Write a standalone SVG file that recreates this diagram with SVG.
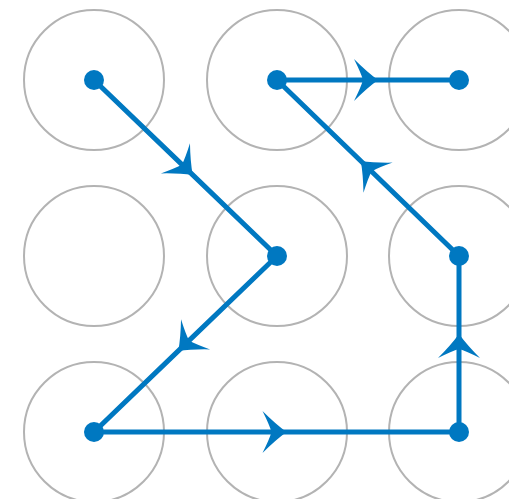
<svg xmlns="http://www.w3.org/2000/svg" width="509" height="499" viewBox="0 0 509 499">
<style>
.ring{fill:none;stroke:#b3b3b3;stroke-width:2}
.seg{fill:none;stroke:#0078c1;stroke-width:5;marker-mid:url(#arr)}
.dot{fill:#0078c1}
</style>
<defs>
<marker id="arr" markerUnits="userSpaceOnUse" markerWidth="50" markerHeight="50" viewBox="-30 -25 35 50" refX="0" refY="0" orient="auto" overflow="visible">
<path d="M0,0 Q-11,-8 -24,-21 Q-17,-7 -15,0 Q-17,7 -24,21 Q-11,8 0,0 Z" fill="#0078c1"/>
</marker>
</defs>
<rect width="509" height="499" fill="#fff"/>
<g id="nodes">
<g id="n1"><circle class="ring" cx="94" cy="80" r="70"/></g>
<g id="n2"><circle class="ring" cx="277" cy="80" r="70"/></g>
<g id="n3"><circle class="ring" cx="459" cy="80" r="70"/></g>
<g id="n4"><circle class="ring" cx="94" cy="256" r="70"/></g>
<g id="n5"><circle class="ring" cx="277" cy="256" r="70"/></g>
<g id="n6"><circle class="ring" cx="459" cy="256" r="70"/></g>
<g id="n7"><circle class="ring" cx="94" cy="432" r="70"/></g>
<g id="n8"><circle class="ring" cx="277" cy="432" r="70"/></g>
<g id="n9"><circle class="ring" cx="459" cy="432" r="70"/></g>
</g>
<g id="connectors">
<path class="seg" d="M94,80 L192.7,174.9 L277,256"/>
<path class="seg" d="M277,256 L178.3,350.9 L94,432"/>
<path class="seg" d="M94,432 L286.5,432 L459,432"/>
<path class="seg" d="M459,432 L459,334 L459,256"/>
<path class="seg" d="M459,256 L360.8,161 L277,80"/>
<path class="seg" d="M277,80 L378,80 L459,80"/>
</g>
<g id="dots">
<circle class="dot" cx="94" cy="80" r="10"/>
<circle class="dot" cx="277" cy="80" r="10"/>
<circle class="dot" cx="459" cy="80" r="10"/>
<circle class="dot" cx="277" cy="256" r="10"/>
<circle class="dot" cx="459" cy="256" r="10"/>
<circle class="dot" cx="94" cy="432" r="10"/>
<circle class="dot" cx="459" cy="432" r="10"/>
</g>
</svg>
